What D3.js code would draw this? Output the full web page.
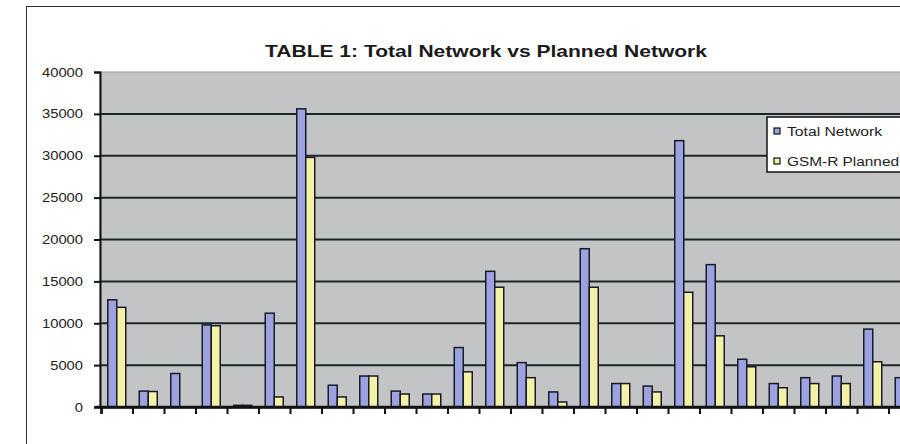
<!DOCTYPE html>
<html>
<head>
<meta charset="utf-8">
<script src="https://cdn.jsdelivr.net/npm/d3@7"></script>
<style>
  html, body { margin: 0; padding: 0; background: #fff; }
  svg { display: block; font-family: "Liberation Sans", Arial, sans-serif; }
</style>
</head>
<body>
<svg id="chart" width="900" height="444"></svg>
<script>
const categories = ["1","2","3","4","5","6","7","8","9","10","11","12","13","14","15","16","17","18","19","20","21","22","23","24","25","26"];
const totalNetwork = [12800, 1900, 4000, 9800, 200, 11200, 35600, 2600, 3700, 1900, 1550, 7100, 16200, 5300, 1800, 18900, 2800, 2500, 31800, 17000, 5700, 2800, 3500, 3700, 9300, 3500];
const gsmrPlanned  = [11900, 1850, 0, 9700, 200, 1200, 29800, 1200, 3700, 1550, 1550, 4200, 14300, 3500, 600, 14300, 2800, 1800, 13700, 8500, 4800, 2300, 2800, 2800, 5400, 2500];
const seriesNames = ["Total Network", "GSM-R Planned"];
const yTicks = [0, 5000, 10000, 15000, 20000, 25000, 30000, 35000, 40000];
const titleText = "TABLE 1: Total Network vs Planned Network";

const colors = ["#9aa2e0", "#f3f1a4"];
const svg = d3.select("#chart");

// outer frame
svg.append("rect").attr("x", 26.5).attr("y", 6.5).attr("width", 1000).attr("height", 1000)
  .attr("fill", "#fff").attr("stroke", "#333").attr("stroke-width", 1);

const x0 = 101, step = 31.5, yZero = 407, yTop = 72;
const x = d3.scaleBand().domain(categories)
  .range([x0, x0 + step * categories.length])
  .paddingInner(1.5 / 3.5).paddingOuter(0.75 / 3.5);
const x1 = d3.scaleBand().domain([0, 1]).range([0, x.bandwidth()]);
const y = d3.scaleLinear().domain([0, 40000]).range([yZero, yTop]);
const xi = d3.scaleLinear().domain([0, categories.length]).range([x0, x0 + step * categories.length]);

// plot area
svg.append("rect").attr("x", 100).attr("y", yTop).attr("width", 850).attr("height", yZero - yTop)
  .attr("fill", "#c3c4c6").attr("stroke", "#9a9a9a").attr("stroke-width", 1);

// gridlines
svg.append("g").selectAll("line").data(yTicks.filter(t => t > 0 && t < 40000)).join("line")
  .attr("x1", 100).attr("x2", 950).attr("y1", d => y(d)).attr("y2", d => y(d))
  .attr("stroke", "#1c2626").attr("stroke-width", 2);

// bars
const groups = svg.append("g").selectAll("g").data(categories).join("g")
  .attr("transform", d => `translate(${x(d)},0)`);
groups.selectAll("rect").data((d, i) => [totalNetwork[i], gsmrPlanned[i]]).join("rect")
  .attr("x", (d, j) => x1(j))
  .attr("width", x1.bandwidth())
  .attr("y", d => y(d))
  .attr("height", d => yZero - y(d))
  .attr("fill", (d, j) => colors[j])
  .attr("stroke", "#1a1a2a").attr("stroke-width", 1.5)
  .attr("display", d => d > 0 ? null : "none");

// y axis
const yAxis = svg.append("g").attr("transform", "translate(100,0)")
  .call(d3.axisLeft(y).tickValues(yTicks).tickSize(6).tickPadding(0).tickFormat(""));
yAxis.select(".domain").attr("stroke", "#111").attr("stroke-width", 2);
yAxis.selectAll(".tick line").attr("stroke", "#111").attr("stroke-width", 2);

svg.append("g").selectAll("text").data(yTicks).join("text")
  .attr("x", 83).attr("y", d => y(d) + 4.5)
  .attr("text-anchor", "end")
  .attr("font-size", 12.5)
  .attr("fill", "#222")
  .attr("textLength", d => String(d).length * 8.2)
  .attr("lengthAdjust", "spacingAndGlyphs")
  .text(d => d);

// x axis
const xAxis = svg.append("g").attr("transform", `translate(0,${yZero})`)
  .call(d3.axisBottom(xi).tickValues(d3.range(0, categories.length + 1)).tickSize(7).tickFormat(""));
xAxis.select(".domain").attr("stroke", "#111").attr("stroke-width", 2.5);
xAxis.selectAll(".tick line").attr("stroke", "#111").attr("stroke-width", 2);
svg.append("line").attr("x1", 95).attr("x2", 950).attr("y1", yZero).attr("y2", yZero)
  .attr("stroke", "#111").attr("stroke-width", 2.5);

// title
svg.append("text").attr("x", 265).attr("y", 57)
  .attr("font-size", 16.5).attr("font-weight", "bold").attr("fill", "#1a1a1a")
  .attr("textLength", 442).attr("lengthAdjust", "spacingAndGlyphs")
  .text(titleText);

// legend
const lg = svg.append("g");
lg.append("rect").attr("x", 767).attr("y", 117).attr("width", 200).attr("height", 55)
  .attr("fill", "#fff").attr("stroke", "#111").attr("stroke-width", 1.5);
const legendY = [131, 161];
const legendW = [95, 112];
seriesNames.forEach((name, i) => {
  lg.append("rect").attr("x", 774).attr("y", legendY[i] - 3).attr("width", 6).attr("height", 6)
    .attr("fill", colors[i]).attr("stroke", "#111").attr("stroke-width", 1.2);
  lg.append("text").attr("x", 787).attr("y", legendY[i] + 4.5)
    .attr("font-size", 12).attr("fill", "#222")
    .attr("textLength", legendW[i]).attr("lengthAdjust", "spacingAndGlyphs")
    .text(name);
});
</script>
</body>
</html>
